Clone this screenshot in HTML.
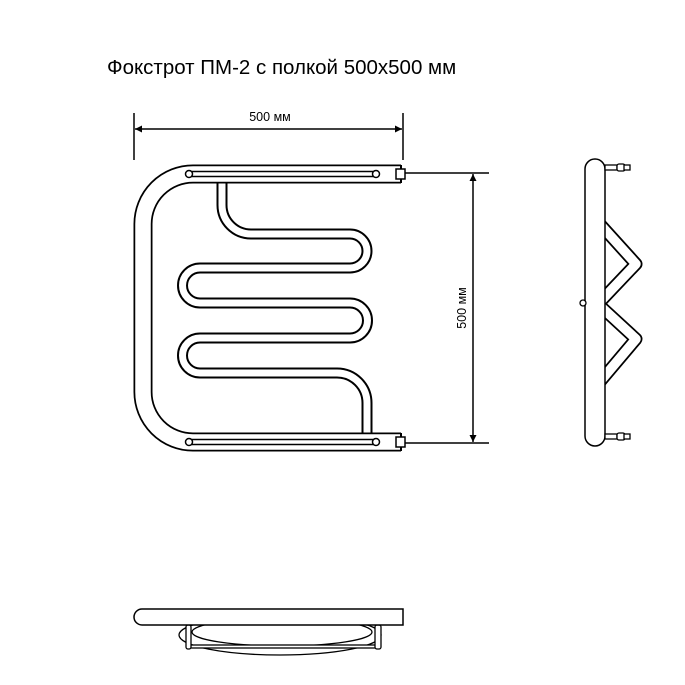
<!DOCTYPE html>
<html><head><meta charset="utf-8"><style>
html,body{margin:0;padding:0;background:#fff;width:685px;height:685px;overflow:hidden}
svg{display:block}
</style></head><body>
<svg width="685" height="685" viewBox="0 0 685 685" xmlns="http://www.w3.org/2000/svg">
<defs>
<marker id="ar" viewBox="0 0 10 10" refX="10" refY="5" markerWidth="10" markerHeight="7" orient="auto-start-reverse" markerUnits="userSpaceOnUse"><path d="M0,0 L10,5 L0,10 z" fill="#000"/></marker>
</defs>
<text x="107" y="74" font-family="Liberation Sans, sans-serif" font-size="20.5" fill="#000">Фокстрот ПМ-2 с полкой 500х500 мм</text>
<!-- top dimension -->
<line x1="134" y1="113" x2="134" y2="160" stroke="#000" stroke-width="1.5"/>
<line x1="403" y1="113" x2="403" y2="160" stroke="#000" stroke-width="1.5"/>
<line x1="135" y1="129" x2="402" y2="129" stroke="#000" stroke-width="1.5" marker-start="url(#ar)" marker-end="url(#ar)"/>
<text x="270" y="121" text-anchor="middle" font-family="Liberation Sans, sans-serif" font-size="12.5">500 мм</text>
<!-- right dimension -->
<line x1="403" y1="173" x2="489" y2="173" stroke="#000" stroke-width="1.5"/>
<line x1="403" y1="443" x2="489" y2="443" stroke="#000" stroke-width="1.5"/>
<line x1="473" y1="174" x2="473" y2="442" stroke="#000" stroke-width="1.5" marker-start="url(#ar)" marker-end="url(#ar)"/>
<text transform="translate(466,308) rotate(-90)" text-anchor="middle" font-family="Liberation Sans, sans-serif" font-size="12.5">500 мм</text>
<!-- serpentine -->
<path d="M222,180 V205 A29,29 0 0 0 251,234 H350 A17,17 0 0 1 350,268 H200 A17.5,17.5 0 0 0 200,303 H350 A17.5,17.5 0 0 1 350,338 H200 A17.5,17.5 0 0 0 200,373 H337 A30,30 0 0 1 367,403 V436" fill="none" stroke="#000" stroke-width="11"/>
<path d="M222,180 V205 A29,29 0 0 0 251,234 H350 A17,17 0 0 1 350,268 H200 A17.5,17.5 0 0 0 200,303 H350 A17.5,17.5 0 0 1 350,338 H200 A17.5,17.5 0 0 0 200,373 H337 A30,30 0 0 1 367,403 V436" fill="none" stroke="#fff" stroke-width="7"/>
<!-- frame -->
<path d="M401,174 H193 A50,50 0 0 0 143,224 V392 A50,50 0 0 0 193,442 H401" fill="none" stroke="#000" stroke-width="19"/>
<path d="M401,174 H193 A50,50 0 0 0 143,224 V392 A50,50 0 0 0 193,442 H401" fill="none" stroke="#fff" stroke-width="15.5"/>
<line x1="401" y1="165" x2="401" y2="183" stroke="#000" stroke-width="2"/>
<line x1="401" y1="433" x2="401" y2="451" stroke="#000" stroke-width="2"/>
<rect x="396" y="169" width="9" height="10" fill="#fff" stroke="#000" stroke-width="1.5"/>
<rect x="396" y="437" width="9" height="10" fill="#fff" stroke="#000" stroke-width="1.5"/>
<rect x="187" y="171.5" width="192" height="5" rx="2.5" fill="none" stroke="#000" stroke-width="1.5"/>
<circle cx="189" cy="174" r="3.5" fill="#fff" stroke="#000" stroke-width="1.5"/>
<circle cx="376" cy="174" r="3.5" fill="#fff" stroke="#000" stroke-width="1.5"/>
<rect x="187" y="439.5" width="192" height="5" rx="2.5" fill="none" stroke="#000" stroke-width="1.5"/>
<circle cx="189" cy="442" r="3.5" fill="#fff" stroke="#000" stroke-width="1.5"/>
<circle cx="376" cy="442" r="3.5" fill="#fff" stroke="#000" stroke-width="1.5"/>
<!-- side view -->
<path d="M598,222 L636,264 L598,304 L636,339 L598,384" fill="none" stroke="#000" stroke-width="13" stroke-linejoin="round"/>
<path d="M598,222 L636,264 L598,304 L636,339 L598,384" fill="none" stroke="#fff" stroke-width="9.5" stroke-linejoin="round"/>
<rect x="585" y="159" width="20" height="287" rx="10" fill="#fff" stroke="#000" stroke-width="1.5"/>
<circle cx="583" cy="303" r="3" fill="#fff" stroke="#000" stroke-width="1.3"/>
<g fill="#fff" stroke="#000" stroke-width="1.3">
<rect x="605" y="165" width="12" height="5"/><rect x="617" y="164" width="8" height="7" rx="2"/><rect x="624" y="165" width="6" height="5"/>
<rect x="605" y="434" width="12" height="5"/><rect x="617" y="433" width="8" height="7" rx="2"/><rect x="624" y="434" width="6" height="5"/>
</g>
<!-- bottom view -->
<ellipse cx="280" cy="635" rx="101" ry="20" fill="#fff" stroke="#000" stroke-width="1.3"/>
<ellipse cx="282" cy="632" rx="90" ry="14" fill="#fff" stroke="#000" stroke-width="1.3"/>
<rect x="187" y="645" width="190" height="3" fill="#fff" stroke="#000" stroke-width="1.3"/>
<rect x="186" y="625" width="5" height="24" rx="2" fill="#fff" stroke="#000" stroke-width="1.3"/>
<rect x="375" y="625" width="6" height="24" rx="2" fill="#fff" stroke="#000" stroke-width="1.3"/>
<path d="M403,609 H142 A8,8 0 0 0 142,625 H403 Z" fill="#fff" stroke="#000" stroke-width="1.5"/>
</svg>
</body></html>
